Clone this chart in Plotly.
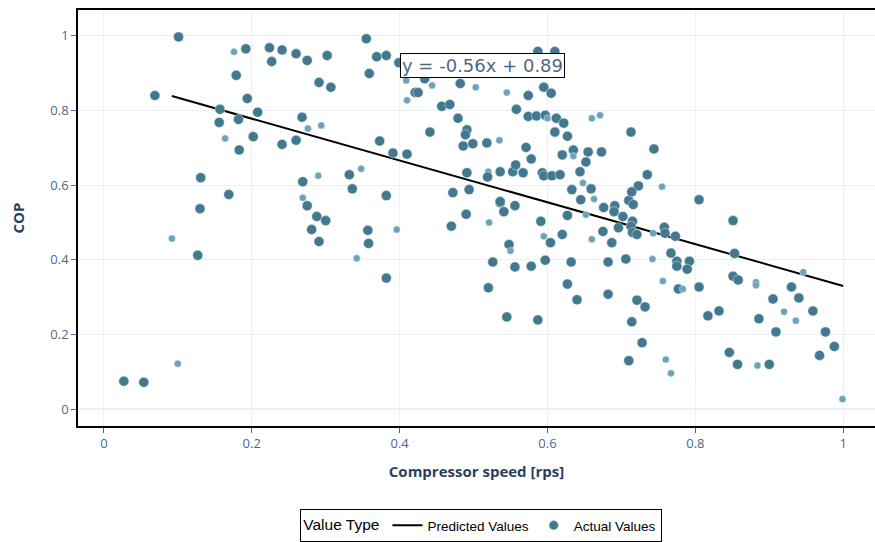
import plotly.graph_objects as go

# Actual values: compressor speed (normalised), COP, and marker group (1 = large, 0 = small)
speed = [0.027, 0.054, 0.10, 0.092, 0.127, 0.13, 0.101, 0.069, 0.176, 0.192,
         0.224, 0.241, 0.26, 0.227, 0.179, 0.194, 0.157, 0.156, 0.182, 0.208,
         0.164, 0.202, 0.183, 0.241, 0.26, 0.131, 0.169, 0.268, 0.269, 0.275,
         0.302, 0.355, 0.369, 0.382, 0.399, 0.359, 0.291, 0.307, 0.276, 0.294,
         0.373, 0.391, 0.29, 0.332, 0.348, 0.336, 0.382, 0.269, 0.275, 0.288,
         0.30, 0.281, 0.291, 0.357, 0.358, 0.396, 0.342, 0.382, 0.47, 0.49,
         0.521, 0.536, 0.541, 0.556, 0.548, 0.55, 0.526, 0.556, 0.578, 0.52,
         0.545, 0.587, 0.591, 0.595, 0.604, 0.597, 0.62, 0.627, 0.632, 0.627,
         0.64, 0.645, 0.652, 0.663, 0.676, 0.691, 0.69, 0.702, 0.71, 0.716,
         0.715, 0.713, 0.696, 0.715, 0.721, 0.675, 0.66, 0.687, 0.682, 0.706,
         0.682, 0.721, 0.732, 0.714, 0.728, 0.71, 0.76, 0.767, 0.742, 0.756,
         0.758, 0.759, 0.743, 0.773, 0.767, 0.775, 0.775, 0.792, 0.789, 0.777,
         0.783, 0.805, 0.817, 0.832, 0.805, 0.851, 0.853, 0.851, 0.858, 0.846,
         0.857, 0.882, 0.882, 0.886, 0.884, 0.9, 0.905, 0.909, 0.92, 0.93,
         0.94, 0.946, 0.936, 0.959, 0.976, 0.968, 0.988, 0.999, 0.66, 0.671,
         0.713, 0.744, 0.655, 0.673, 0.652, 0.644, 0.648, 0.735, 0.723, 0.714,
         0.755, 0.659, 0.587, 0.61, 0.409, 0.434, 0.444, 0.41, 0.421, 0.425,
         0.482, 0.503, 0.545, 0.574, 0.595, 0.605, 0.457, 0.468, 0.558, 0.574,
         0.585, 0.597, 0.612, 0.622, 0.6, 0.479, 0.441, 0.491, 0.489, 0.486,
         0.499, 0.518, 0.535, 0.61, 0.627, 0.571, 0.578, 0.635, 0.62, 0.635,
         0.41, 0.491, 0.52, 0.536, 0.519, 0.553, 0.557, 0.567, 0.593, 0.595,
         0.606, 0.617, 0.633, 0.472, 0.494, 0.536]
cop = [0.075, 0.072, 0.122, 0.457, 0.412, 0.537, 0.997, 0.84, 0.957, 0.965,
       0.968, 0.962, 0.952, 0.931, 0.894, 0.832, 0.803, 0.768, 0.776, 0.795,
       0.725, 0.73, 0.694, 0.709, 0.72, 0.62, 0.575, 0.782, 0.609, 0.934,
       0.947, 0.992, 0.944, 0.947, 0.928, 0.899, 0.875, 0.862, 0.752, 0.76,
       0.718, 0.686, 0.625, 0.628, 0.644, 0.59, 0.572, 0.566, 0.545, 0.516,
       0.505, 0.481, 0.449, 0.479, 0.444, 0.481, 0.404, 0.351, 0.49, 0.522,
       0.50, 0.553, 0.529, 0.545, 0.441, 0.424, 0.394, 0.381, 0.383, 0.325,
       0.247, 0.239, 0.503, 0.463, 0.446, 0.399, 0.468, 0.519, 0.394, 0.335,
       0.293, 0.561, 0.521, 0.563, 0.54, 0.545, 0.529, 0.516, 0.559, 0.548,
       0.503, 0.49, 0.486, 0.473, 0.468, 0.476, 0.455, 0.446, 0.394, 0.402,
       0.308, 0.292, 0.274, 0.234, 0.178, 0.13, 0.133, 0.096, 0.402, 0.343,
       0.487, 0.471, 0.471, 0.463, 0.418, 0.396, 0.383, 0.396, 0.375, 0.322,
       0.322, 0.327, 0.25, 0.263, 0.561, 0.505, 0.417, 0.356, 0.346, 0.152,
       0.12, 0.34, 0.332, 0.242, 0.117, 0.12, 0.295, 0.207, 0.261, 0.327,
       0.298, 0.367, 0.237, 0.263, 0.207, 0.144, 0.168, 0.027, 0.779, 0.787,
       0.742, 0.697, 0.689, 0.689, 0.662, 0.636, 0.606, 0.628, 0.598, 0.582,
       0.596, 0.59, 0.958, 0.958, 0.88, 0.885, 0.867, 0.827, 0.848, 0.848,
       0.872, 0.862, 0.848, 0.84, 0.862, 0.846, 0.811, 0.816, 0.803, 0.784,
       0.785, 0.787, 0.779, 0.766, 0.779, 0.779, 0.742, 0.748, 0.735, 0.705,
       0.711, 0.713, 0.72, 0.742, 0.731, 0.701, 0.67, 0.694, 0.681, 0.678,
       0.683, 0.633, 0.636, 0.636, 0.622, 0.636, 0.654, 0.633, 0.633, 0.625,
       0.625, 0.628, 0.588, 0.58, 0.588, 0.556]
group = [1, 1, 0, 0, 1, 1, 1, 1, 0, 1,
         1, 1, 1, 1, 1, 1, 1, 1, 1, 1,
         0, 1, 1, 1, 1, 1, 1, 1, 1, 1,
         1, 1, 1, 1, 1, 1, 1, 1, 0, 0,
         1, 1, 0, 1, 0, 1, 1, 0, 1, 1,
         1, 1, 1, 1, 1, 0, 0, 1, 1, 1,
         0, 1, 1, 1, 1, 0, 1, 1, 1, 1,
         1, 1, 1, 0, 1, 1, 1, 1, 1, 1,
         1, 1, 0, 0, 1, 1, 1, 1, 1, 1,
         1, 1, 1, 1, 1, 1, 0, 1, 1, 1,
         1, 1, 1, 1, 1, 1, 0, 0, 0, 0,
         1, 1, 0, 1, 1, 1, 1, 1, 1, 1,
         0, 1, 1, 1, 1, 1, 1, 1, 1, 1,
         1, 0, 0, 1, 0, 1, 1, 1, 0, 1,
         1, 0, 0, 1, 1, 1, 1, 0, 0, 0,
         1, 1, 1, 1, 1, 1, 0, 1, 1, 1,
         0, 1, 1, 1, 0, 1, 0, 0, 1, 1,
         1, 0, 0, 1, 1, 1, 1, 1, 1, 1,
         1, 1, 1, 1, 0, 1, 1, 1, 1, 1,
         1, 1, 0, 1, 1, 1, 1, 1, 1, 0,
         1, 1, 0, 1, 1, 1, 1, 1, 1, 1,
         1, 1, 1, 1, 1, 1]

# Fitted regression line
slope = -0.56
intercept = 0.89
line_x = [0.092, 1.0]
equation_text = "y = -0.56x + 0.89"

line_y = [slope * x + intercept for x in line_x]
sizes = [10 if g else 7 for g in group]
colors = ["#42798F" if g else "#6CA2BA" for g in group]

fig = go.Figure()
fig.add_trace(go.Scatter(
    x=line_x, y=line_y, mode="lines", name="Predicted Values",
    line=dict(color="black", width=2),
))
fig.add_trace(go.Scatter(
    x=speed, y=cop, mode="markers", name="Actual Values",
    marker=dict(size=sizes, color=colors, opacity=1, line=dict(width=0.5, color="#DDE8EE")),
))

fig.add_annotation(
    x=0.512, y=0.92, xref="x", yref="y", text=equation_text, showarrow=False,
    font=dict(size=18, color="#506784", family="DejaVu Sans"),
    bordercolor="black", borderwidth=1, borderpad=1, bgcolor="white",
)

fig.update_layout(
    template="plotly_white",
    width=875, height=542,
    margin=dict(l=78, r=0, t=10, b=113),
    showlegend=True,
    legend=dict(
        orientation="h", x=0.506, xanchor="center", y=-0.2, yanchor="top",
        title=dict(text="Value Type", font=dict(size=15.5, color="black", family="Arial")),
        font=dict(size=13.5, color="black", family="Arial"),
        bordercolor="black", borderwidth=1,
    ),
    xaxis=dict(
        title=dict(text="<b>Compressor speed [rps]</b>", font=dict(size=15, color="#2a3f5f")),
        range=[-0.035, 1.043], dtick=0.2, tick0=0,
        showline=True, linecolor="black", linewidth=1.5, mirror=True,
        ticks="outside", tickcolor="#506784", ticklen=5,
        tickfont=dict(size=13, color="#506784"),
        gridcolor="#EBF0F8", zeroline=False,
    ),
    yaxis=dict(
        title=dict(text="<b>COP</b>", font=dict(size=15, color="#2a3f5f"), standoff=22),
        range=[-0.045, 1.069], dtick=0.2, tick0=0,
        showline=True, linecolor="black", linewidth=1.5, mirror=False,
        ticks="outside", tickcolor="#506784", ticklen=5,
        tickfont=dict(size=13, color="#506784"),
        gridcolor="#EBF0F8", zeroline=True, zerolinecolor="#EBF0F8", zerolinewidth=2,
    ),
)

fig.write_html("out.html")
